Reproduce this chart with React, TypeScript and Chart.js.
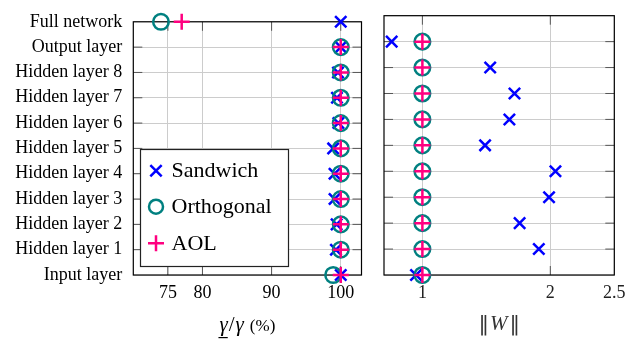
import React, { useEffect, useRef } from 'react';
import { Chart, registerables } from 'chart.js';

Chart.register(...registerables);

// Rows from bottom (index 0) to top (index 10)
const layerLabels = [
  'Input layer',
  'Hidden layer 1',
  'Hidden layer 2',
  'Hidden layer 3',
  'Hidden layer 4',
  'Hidden layer 5',
  'Hidden layer 6',
  'Hidden layer 7',
  'Hidden layer 8',
  'Output layer',
  'Full network',
];

// Left panel: lower bound / true value (%)
const sandwichRatio = [100, 99.3, 99.4, 99.1, 99.1, 98.9, 99.65, 99.45, 99.6, 100, 100];
const orthogonalRatio = [98.9, 100, 100, 100, 100, 100, 100, 100, 100, 100, 74.0];
const aolRatio = [100, 100, 100, 100, 100, 100, 100, 100, 100, 100, 77.0];

// Right panel: ||W||
const sandwichNorm = [0.95, 1.91, 1.76, 1.99, 2.04, 1.49, 1.68, 1.72, 1.53, 0.76, null];
const orthogonalNorm = [1, 1, 1, 1, 1, 1, 1, 1, 1, 1, null];
const aolNorm = [1, 1, 1, 1, 1, 1, 1, 1, 1, 1, null];

const ratioTicks = [75, 80, 90, 100];
const normTicks = [1, 2, 2.5];

const seriesNames = ['Sandwich', 'Orthogonal', 'AOL'];
const seriesColors = ['#0000ff', '#008080', '#ff0080'];
const seriesStyles = ['crossRot', 'circle', 'cross'];

const SERIF = '"Liberation Serif", "DejaVu Serif", serif';
const GRID = '#cccccc';

function toPoints(values: (number | null)[]) {
  const pts: { x: number; y: number }[] = [];
  values.forEach((v, i) => {
    if (v !== null && v !== undefined) pts.push({ x: v, y: i });
  });
  return pts;
}

function makeDatasets(vals: (number | null)[][]) {
  return vals.map((v, k) => ({
    label: seriesNames[k],
    data: toPoints(v),
    pointStyle: seriesStyles[k],
    pointRadius: k === 1 ? 7.8 : 8,
    pointBorderWidth: 2.5,
    borderColor: seriesColors[k],
    backgroundColor: k === 1 ? 'rgba(0,0,0,0)' : seriesColors[k],
    pointBackgroundColor: k === 1 ? 'rgba(0,0,0,0)' : seriesColors[k],
    pointBorderColor: seriesColors[k],
    showLine: false,
    clip: false as any,
    order: 2 - k,
  }));
}

function drawMarker(ctx: CanvasRenderingContext2D, style: string, x: number, y: number, r: number, color: string) {
  ctx.save();
  ctx.strokeStyle = color;
  ctx.lineWidth = 2.5;
  ctx.beginPath();
  if (style === 'circle') {
    ctx.arc(x, y, r, 0, Math.PI * 2);
  } else if (style === 'cross') {
    ctx.moveTo(x - r, y);
    ctx.lineTo(x + r, y);
    ctx.moveTo(x, y - r);
    ctx.lineTo(x, y + r);
  } else {
    const d = r * Math.SQRT1_2;
    ctx.moveTo(x - d, y - d);
    ctx.lineTo(x + d, y + d);
    ctx.moveTo(x - d, y + d);
    ctx.lineTo(x + d, y - d);
  }
  ctx.stroke();
  ctx.restore();
}

const framePlugin = {
  id: 'frameTicks',
  beforeDatasetsDraw(chart: any) {
    const ctx = chart.ctx;
    const a = chart.chartArea;
    const xs = chart.scales.x;
    const ys = chart.scales.y;
    const len = 9;
    ctx.save();
    ctx.strokeStyle = '#555';
    ctx.lineWidth = 1;
    ctx.beginPath();
    xs.ticks.forEach((t: any) => {
      const px = xs.getPixelForValue(t.value);
      if (px <= a.left + 0.5 || px >= a.right - 0.5) return;
      ctx.moveTo(px, a.top);
      ctx.lineTo(px, a.top + len);
      ctx.moveTo(px, a.bottom);
      ctx.lineTo(px, a.bottom - len);
    });
    ys.ticks.forEach((t: any) => {
      const py = ys.getPixelForValue(t.value);
      if (py <= a.top + 0.5 || py >= a.bottom - 0.5) return;
      ctx.moveTo(a.left, py);
      ctx.lineTo(a.left + len, py);
      ctx.moveTo(a.right, py);
      ctx.lineTo(a.right - len, py);
    });
    ctx.stroke();
    ctx.strokeStyle = '#000';
    ctx.lineWidth = 1.2;
    ctx.strokeRect(a.left, a.top, a.right - a.left, a.bottom - a.top);
    ctx.restore();
  },
};

const legendPlugin = {
  id: 'insideLegend',
  afterDraw(chart: any) {
    const ctx = chart.ctx;
    ctx.save();
    const bx = 140.5, by = 149.5, bw = 148, bh = 117;
    ctx.fillStyle = '#fff';
    ctx.fillRect(bx, by, bw, bh);
    ctx.strokeStyle = '#222';
    ctx.lineWidth = 1.2;
    ctx.strokeRect(bx, by, bw, bh);
    const ys = [170.7, 206.7, 243.3];
    ctx.font = `22px ${SERIF}`;
    ctx.fillStyle = '#000';
    ctx.textBaseline = 'middle';
    ctx.textAlign = 'left';
    seriesNames.forEach((name, k) => {
      const r = k === 1 ? 7 : 8;
      drawMarker(ctx, seriesStyles[k], 156, ys[k], r, seriesColors[k]);
      ctx.fillText(name, 171.5, ys[k] + 1);
    });
    ctx.restore();
  },
};

type Part = { t: string; f: string; u?: boolean; gap?: number };

function drawParts(ctx: CanvasRenderingContext2D, parts: Part[], cx: number, base: number) {
  let total = 0;
  const widths = parts.map((p) => {
    ctx.font = p.f;
    const w = ctx.measureText(p.t).width + (p.gap || 0);
    total += w;
    return w;
  });
  let x = cx - total / 2;
  parts.forEach((p, i) => {
    ctx.font = p.f;
    ctx.fillText(p.t, x, base);
    if (p.u) {
      ctx.fillRect(x - 1, base + 6, widths[i] - (p.gap || 0) + 1, 1.2);
    }
    x += widths[i];
  });
}

function leftTitlePlugin() {
  return {
    id: 'leftTitle',
    afterDraw(chart: any) {
      const ctx = chart.ctx;
      const a = chart.chartArea;
      const cx = (a.left + a.right) / 2;
      ctx.save();
      ctx.fillStyle = '#000';
      ctx.textBaseline = 'alphabetic';
      ctx.textAlign = 'left';
      drawParts(
        ctx,
        [
          { t: 'γ', f: `italic 21px ${SERIF}`, u: true, gap: 1 },
          { t: '/', f: `21px ${SERIF}`, gap: 1 },
          { t: 'γ', f: `italic 21px ${SERIF}`, gap: 6 },
          { t: '(%)', f: `17px ${SERIF}` },
        ],
        cx,
        331
      );
      ctx.restore();
    },
  };
}

function rightTitlePlugin() {
  return {
    id: 'rightTitle',
    afterDraw(chart: any) {
      const ctx = chart.ctx;
      const a = chart.chartArea;
      const cx = (a.left + a.right) / 2;
      ctx.save();
      ctx.fillStyle = '#333';
      ctx.textBaseline = 'alphabetic';
      ctx.textAlign = 'left';
      drawParts(
        ctx,
        [
          { t: '‖', f: `21px "DejaVu Serif", serif`, gap: 1 },
          { t: 'W', f: `italic 21px ${SERIF}`, gap: 2 },
          { t: '‖', f: `21px "DejaVu Serif", serif` },
        ],
        cx,
        330
      );
      ctx.restore();
    },
  };
}

export default function App() {
  const leftRef = useRef<HTMLCanvasElement | null>(null);
  const rightRef = useRef<HTMLCanvasElement | null>(null);

  useEffect(() => {
    const tickFont = { family: SERIF, size: 18 };
    const left = new Chart(leftRef.current as HTMLCanvasElement, {
      type: 'scatter',
      data: { datasets: makeDatasets([sandwichRatio, orthogonalRatio, aolRatio]) as any },
      options: {
        animation: false,
        responsive: false,
        maintainAspectRatio: false,
        events: [],
        layout: { padding: { top: 15.7, right: 8.7, left: 0, bottom: 0 } },
        plugins: { legend: { display: false }, tooltip: { enabled: false } },
        scales: {
          x: {
            type: 'linear',
            min: 70,
            max: 103,
            afterBuildTicks: (s: any) => {
              s.ticks = ratioTicks.map((v) => ({ value: v }));
            },
            afterFit: (s: any) => {
              s.height = 64;
            },
            ticks: { font: tickFont, color: '#000', padding: 7, autoSkip: false, maxRotation: 0 },
            grid: { color: GRID, drawTicks: false },
            border: { display: false },
          },
          y: {
            type: 'linear',
            min: 0,
            max: 10,
            afterBuildTicks: (s: any) => {
              s.ticks = layerLabels.map((_, i) => ({ value: i }));
            },
            afterFit: (s: any) => {
              s.width = 133.3;
            },
            ticks: {
              font: tickFont,
              color: '#000',
              padding: 11,
              autoSkip: false,
              callback: (v: any) => layerLabels[v as number],
            },
            grid: { color: GRID, drawTicks: false },
            border: { display: false },
          },
        },
      } as any,
      plugins: [framePlugin, legendPlugin, leftTitlePlugin()],
    });

    const right = new Chart(rightRef.current as HTMLCanvasElement, {
      type: 'scatter',
      data: { datasets: makeDatasets([sandwichNorm, orthogonalNorm, aolNorm]) as any },
      options: {
        animation: false,
        responsive: false,
        maintainAspectRatio: false,
        events: [],
        layout: { padding: { top: 15.7, right: 27.7, left: 12, bottom: 0 } },
        plugins: { legend: { display: false }, tooltip: { enabled: false } },
        scales: {
          x: {
            type: 'linear',
            min: 0.7,
            max: 2.5,
            afterBuildTicks: (s: any) => {
              s.ticks = normTicks.map((v) => ({ value: v }));
            },
            afterFit: (s: any) => {
              s.height = 64;
            },
            ticks: {
              font: tickFont,
              color: '#222',
              padding: 7,
              autoSkip: false,
              maxRotation: 0,
              callback: (v: any) => String(v),
            },
            grid: { color: GRID, drawTicks: false },
            border: { display: false },
          },
          y: {
            type: 'linear',
            min: 0,
            max: 10,
            afterBuildTicks: (s: any) => {
              s.ticks = layerLabels.map((_, i) => ({ value: i }));
            },
            afterFit: (s: any) => {
              s.width = 0;
            },
            ticks: { display: false },
            grid: { color: GRID, drawTicks: false },
            border: { display: false },
          },
        },
      } as any,
      plugins: [framePlugin, rightTitlePlugin()],
    });

    return () => {
      left.destroy();
      right.destroy();
    };
  }, []);

  return (
    <div style={{ position: 'fixed', left: 0, top: 0, width: 642, height: 339, background: '#fff' }}>
      <canvas
        ref={leftRef}
        width={372}
        height={339}
        style={{ position: 'absolute', left: 0, top: 0, width: 372, height: 339 }}
      />
      <canvas
        ref={rightRef}
        width={270}
        height={339}
        style={{ position: 'absolute', left: 372, top: 0, width: 270, height: 339 }}
      />
    </div>
  );
}
